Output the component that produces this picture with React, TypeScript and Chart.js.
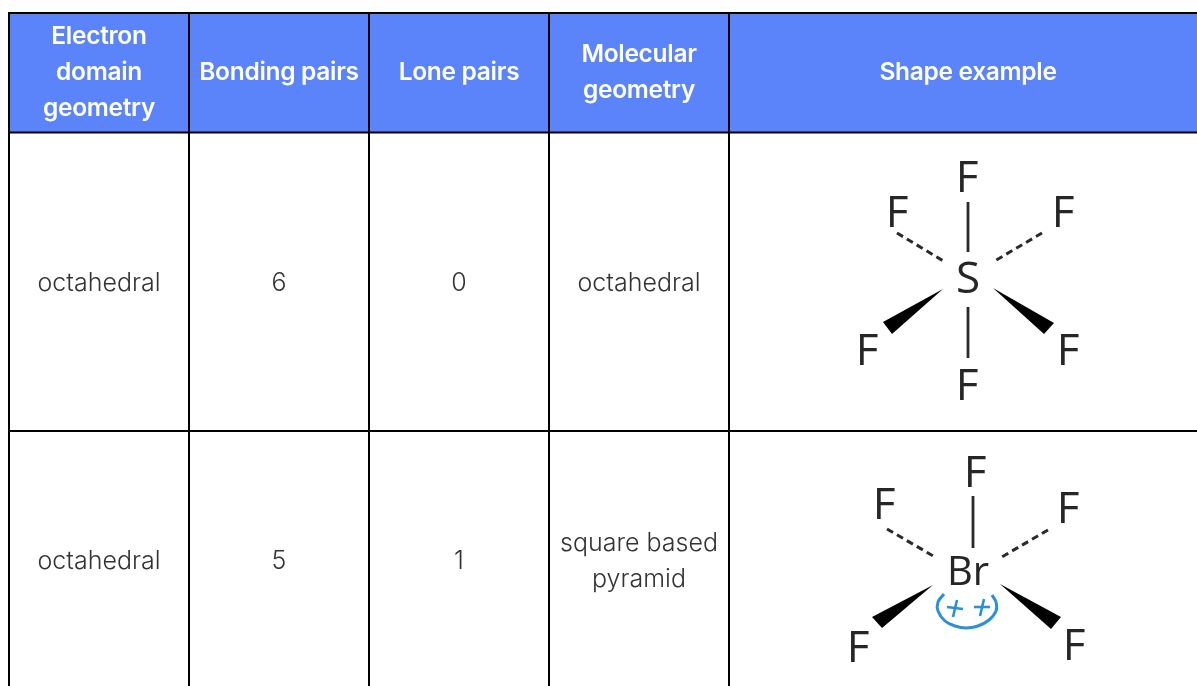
import React, { useEffect, useRef } from "react";
import { Chart, registerables } from "chart.js";

Chart.register(...registerables);

// Table structure
const columnEdges = [9, 189, 369, 549, 729];
const rowEdges = [13, 132.5, 431];
const tableRight = 1197;
const tableBottom = 686;
const columnCentres = [99, 279, 459, 639, 968];
const headerBand = [[9, 13], [1197, 13], [1197, 132.5], [9, 132.5]];

// Table text
const headers = [
  ["Electron", "domain", "geometry"],
  ["Bonding pairs"],
  ["Lone pairs"],
  ["Molecular", "geometry"],
  ["Shape example"],
];
const rows = [
  ["octahedral", "6", "0", "octahedral"],
  ["octahedral", "5", "1", "square based|pyramid"],
];
const headerCentreY = 73;
const rowCentreY = [283, 561];
const lineGap = 36;

// SF6 sketch
const sf6Atoms: [string, number, number][] = [
  ["F", 967, 177], ["F", 897, 212], ["F", 1063, 212], ["F", 867, 350], ["F", 1068, 350], ["F", 967, 385], ["S", 968, 278],
];
const sf6Solid = [[[968, 202], [968, 252]], [[968, 307], [968, 358]]];
const sf6Dashed = [[[897, 233], [945, 262]], [[1042, 233], [993, 262]]];
const sf6Wedges = [
  [[943, 289], [883, 322], [892, 334]],
  [[993, 288], [1054, 323], [1044, 334]],
];

// BrF5 sketch
const brf5Atoms: [string, number, number][] = [
  ["F", 975, 472], ["F", 884, 504], ["F", 1068, 508], ["F", 858, 647], ["F", 1074, 645], ["Br", 968, 572],
];
const brf5Solid = [[[973, 496], [973, 548]]];
const brf5Dashed = [[[887, 529], [935, 557]], [[1048, 530], [1000, 558]]];
const brf5Wedges = [
  [[933, 585], [872, 617], [882, 628]],
  [[1000, 584], [1061, 617], [1051, 629]],
];
const lonePairArc = [[944, 594], [938, 602], [938, 611], [945, 621], [955, 626], [966, 628], [978, 626], [989, 620], [996, 611], [996, 602], [992, 595]];
const lonePairMarks = [
  [[947, 607], [963, 609]], [[957, 600], [953, 617]],
  [[974, 607], [990, 607]], [[984, 599], [980, 616]],
];

const BLACK = "#000000";
const toPts = (a: number[][]) => a.map(([x, y]) => ({ x, y }));
const base = { pointRadius: 0, pointHoverRadius: 0, showLine: true, clip: false as const, tension: 0 };

function lineDs(pts: number[][], color: string, width: number, dash: number[] = [], order = 1) {
  return { ...base, data: toPts(pts), borderColor: color, borderWidth: width, borderDash: dash, fill: false, order };
}
function shapeDs(pts: number[][], color: string, order = 1) {
  return { ...base, data: toPts(pts), borderColor: color, borderWidth: 0, backgroundColor: color, fill: "shape", order };
}

const datasets: any[] = [
  shapeDs(headerBand, "#5b83fa", 10),
  ...columnEdges.map((x) => lineDs([[x, rowEdges[0] - 1], [x, tableBottom]], BLACK, 2, [], 5)),
  ...rowEdges.map((y) => lineDs([[columnEdges[0] - 1, y], [tableRight, y]], BLACK, 2, [], 5)),
  ...[...sf6Solid, ...brf5Solid].map((s) => lineDs(s, "#2a2a2a", 2.8)),
  ...[...sf6Dashed, ...brf5Dashed].map((s) => lineDs(s, "#2a2a2a", 3, [7, 4.5])),
  ...[...sf6Wedges, ...brf5Wedges].map((s) => shapeDs(s, "#000000")),
  { ...lineDs(lonePairArc, "#2b8fd9", 3), tension: 0.4 },
  ...lonePairMarks.map((s) => lineDs(s, "#2b8fd9", 2.6)),
];

const tableText = {
  id: "tableText",
  afterDatasetsDraw(chart: any) {
    const { ctx, scales } = chart;
    const px = (v: number) => scales.x.getPixelForValue(v);
    const py = (v: number) => scales.y.getPixelForValue(v);
    ctx.save();
    ctx.textAlign = "center";
    ctx.textBaseline = "middle";
    ctx.fillStyle = "#ffffff";
    ctx.font = '600 24.5px Inter';
    ctx.letterSpacing = "-0.3px";
    headers.forEach((lines, c) => {
      lines.forEach((t, i) => {
        const y = headerCentreY + (i - (lines.length - 1) / 2) * lineGap;
        ctx.fillText(t, px(columnCentres[c]), py(y));
      });
    });
    ctx.fillStyle = "#333333";
    ctx.font = '300 25px Inter';
    ctx.letterSpacing = "0px";
    rows.forEach((row, r) => {
      row.forEach((cell, c) => {
        const lines = cell.split("|");
        lines.forEach((t, i) => {
          const y = rowCentreY[r] + (i - (lines.length - 1) / 2) * lineGap;
          ctx.fillText(t, px(columnCentres[c]), py(y));
        });
      });
    });
    ctx.fillStyle = "#262626";
    sf6Atoms.forEach(([t, x, y]) => {
      ctx.font = '400 44px "Open Sans"';
      ctx.fillText(t, px(x), py(y + 2));
    });
    brf5Atoms.forEach(([t, x, y]) => {
      ctx.font = t === "Br" ? '400 40px "Open Sans"' : '400 44px "Open Sans"';
      ctx.fillText(t, px(x), py(y + 2));
    });
    ctx.restore();
  },
};

export default function App() {
  const ref = useRef<HTMLCanvasElement>(null);
  useEffect(() => {
    document.body.style.margin = "0";
    const chart = new Chart(ref.current as HTMLCanvasElement, {
      type: "scatter",
      data: { datasets },
      options: {
        animation: false,
        responsive: false,
        events: [],
        layout: { padding: 0 },
        plugins: { legend: { display: false }, tooltip: { enabled: false }, title: { display: false } },
        scales: {
          x: { type: "linear", min: 0, max: 1197, display: false },
          y: { type: "linear", min: 0, max: 686, reverse: true, display: false },
        },
      },
      plugins: [tableText],
    } as any);
    return () => chart.destroy();
  }, []);
  return <canvas ref={ref} width={1197} height={686} style={{ display: "block" }} />;
}
